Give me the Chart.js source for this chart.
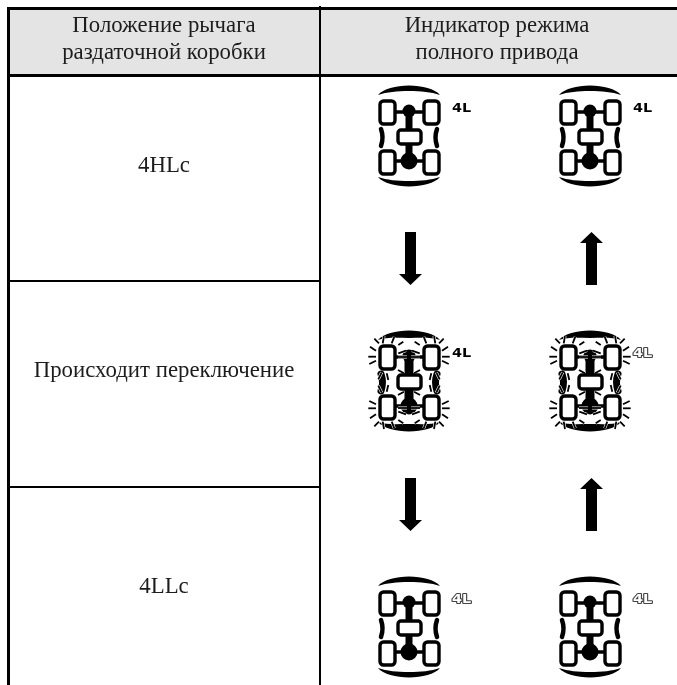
<!DOCTYPE html>
<html lang="ru">
<head>
<meta charset="utf-8">
<title>Индикатор режима полного привода</title>
<script src="https://cdn.jsdelivr.net/npm/chart.js@4/dist/chart.umd.min.js"></script>
<style>
    html, body { margin: 0; padding: 0; background: #fff; overflow: hidden; }
    canvas { display: block; }
</style>
</head>
<body>
<canvas id="chart" width="677" height="685"></canvas>
<script>
// Table contents
const headerLeft = ['Положение рычага', 'раздаточной коробки'];
const headerRight = ['Индикатор режима', 'полного привода'];
const rowLabels = ['4HLc', 'Происходит переключение', '4LLc'];
const rowLabelY = [172, 377, 593];

// Indicator icons: where they sit and whether they blink
const iconColumns = [409, 590];
const iconRows = [136, 381, 627];
const blinkingRow = [false, true, false];

// 4L lamp state per row, one entry for each column
const lampSolid = [[true, true], [true, false], [false, false]];

// Arrows between the icons
const arrowColumns = [410.5, 591.5];
const arrowRows = [258.5, 504.5];

// Table rules
const tableLeft = 8.5;
const tableMid = 320;
const tableRight = 677;
const tableBottom = 685;
const headerTop = 8.5;
const headerBottom = 75.5;
const rowRules = [281, 487];

/**
 * Rounded rectangle path, stroked with a white inside
 */
function wheel(ctx, x1, y1, x2, y2, r) {
    ctx.beginPath();
    ctx.roundRect(x1, y1, x2 - x1, y2 - y1, r);
    ctx.fillStyle = '#fff';
    ctx.fill();
    ctx.stroke();
}

/**
 * Bumper crescent. dir is -1 for the front one, 1 for the rear one
 */
function bumper(ctx, dir, depth) {
    ctx.fillStyle = '#000';
    ctx.beginPath();
    ctx.moveTo(-31, dir * 41);
    ctx.bezierCurveTo(-26, dir * 47, -13, dir * 50.5, 0, dir * 50.5);
    ctx.bezierCurveTo(13, dir * 50.5, 26, dir * 47, 31, dir * 41);
    ctx.bezierCurveTo(22, dir * 44, 12, dir * (46 - depth), 0, dir * (46 - depth));
    ctx.bezierCurveTo(-12, dir * (46 - depth), -22, dir * 44, -31, dir * 41);
    ctx.closePath();
    ctx.fill();
}

// Short rays around the front left wheel, mirrored for the other three
const rayStrokes = [
    [-40.7, -24.3, -33, -24.3], [-39, -34.3, -33, -30.3], [-39.7, -17, -33, -20.3],
    [-34.7, -42.3, -30, -37.7], [-25, -45, -26.3, -37.7], [-14.7, -44.3, -17.3, -37.7],
    [-10.7, -36, -5.7, -39.3], [-10.7, -27.7, -3, -30.3], [-11, -24, -2, -24],
    [-11, -11, -5, -7.7], [-30.7, -1.7, -27.3, -8.7], [-20.7, -1, -22.3, -7.7]
];

function drawRays(ctx) {
    [[1, 1], [-1, 1], [1, -1], [-1, -1]].forEach(([sx, sy]) => {
        rayStrokes.forEach(([x1, y1, x2, y2]) => {
            const mirrorY = y => (sy === 1 ? y : 3 - y);
            ctx.beginPath();
            ctx.moveTo(sx * x1, mirrorY(y1));
            ctx.lineTo(sx * x2, mirrorY(y2));
            ctx.strokeStyle = '#fff';
            ctx.lineWidth = 3;
            ctx.stroke();
            ctx.strokeStyle = '#000';
            ctx.lineWidth = 1.8;
            ctx.stroke();
        });
    });
}

/**
 * Build the drive layout picture used as a point style
 */
function makeIcon(blinking) {
    const sprite = document.createElement('canvas');
    sprite.width = 100;
    sprite.height = 120;
    const ctx = sprite.getContext('2d');
    ctx.translate(50, 60);
    ctx.fillStyle = '#000';
    ctx.strokeStyle = '#000';
    ctx.lineCap = 'round';

    bumper(ctx, -1, blinking ? 3 : 1);
    bumper(ctx, 1, blinking ? 3 : 1);

    // Doors
    ctx.lineWidth = blinking ? 7 : 4.5;
    [-1, 1].forEach(side => {
        ctx.beginPath();
        ctx.moveTo(side * 28, -7);
        ctx.quadraticCurveTo(side * 25, 1.5, side * 28, 10);
        ctx.stroke();
    });

    // Axles, shaft and differentials
    ctx.fillStyle = '#000';
    ctx.lineWidth = 3.4;
    ctx.beginPath();
    ctx.moveTo(-20, -24);
    ctx.lineTo(20, -24);
    ctx.moveTo(-20, 25);
    ctx.lineTo(20, 25);
    ctx.stroke();
    ctx.lineWidth = blinking ? 9 : 7;
    ctx.lineCap = 'butt';
    ctx.beginPath();
    ctx.moveTo(0, -25);
    ctx.lineTo(0, 25);
    ctx.stroke();
    ctx.beginPath();
    ctx.arc(0, -25, 6.5, 0, Math.PI * 2);
    ctx.fill();
    ctx.beginPath();
    ctx.arc(0, 25, 8.5, 0, Math.PI * 2);
    ctx.fill();

    // Wheels
    ctx.lineWidth = 3.4;
    wheel(ctx, -29, -35, -14, -12, 3.5);
    wheel(ctx, 15, -35, 30, -12, 3.5);
    wheel(ctx, -29, 15, -14, 38, 3.5);
    wheel(ctx, 15, 15, 30, 38, 3.5);

    if (blinking) {
        drawRays(ctx);
    }

    // Transfer case goes last, the rays stay outside it
    ctx.strokeStyle = '#000';
    ctx.lineWidth = 3.4;
    wheel(ctx, -11, -6, 12, 8, 3);
    return sprite;
}

/**
 * Block arrow picture. dir is 1 for down, -1 for up
 */
function makeArrow(dir) {
    const sprite = document.createElement('canvas');
    sprite.width = 23;
    sprite.height = 53;
    const ctx = sprite.getContext('2d');
    ctx.translate(11.5, 26.5);
    ctx.scale(1, dir);
    ctx.fillStyle = '#000';
    ctx.beginPath();
    ctx.moveTo(-5.5, -26.5);
    ctx.lineTo(5.5, -26.5);
    ctx.lineTo(5.5, 15.5);
    ctx.lineTo(11.5, 15.5);
    ctx.lineTo(0, 26.5);
    ctx.lineTo(-11.5, 15.5);
    ctx.lineTo(-5.5, 15.5);
    ctx.closePath();
    ctx.fill();
    return sprite;
}

function rule(points, width) {
    return {
        data: points.map(([x, y]) => ({ x, y })),
        showLine: true,
        borderColor: '#000',
        borderWidth: width,
        pointRadius: 0,
        borderCapStyle: 'butt'
    };
}

function pointsFor(columns, rows) {
    const points = [];
    rows.forEach(y => columns.forEach(x => points.push({ x, y })));
    return points;
}

// Text and 4L lamps, placed through the chart scales
const tableText = {
    id: 'tableText',
    afterDatasetsDraw(chart) {
        const { ctx, scales: { x, y } } = chart;
        ctx.save();
        ctx.fillStyle = '#1c1c1c';
        ctx.textAlign = 'center';
        ctx.textBaseline = 'alphabetic';
        ctx.font = '22.8px "Liberation Serif"';

        headerLeft.forEach((text, i) => {
            ctx.fillText(text, x.getPixelForValue(164), y.getPixelForValue(32 + i * 27));
        });
        headerRight.forEach((text, i) => {
            ctx.fillText(text, x.getPixelForValue(497), y.getPixelForValue(32 + i * 27));
        });
        rowLabels.forEach((text, i) => {
            ctx.fillText(text, x.getPixelForValue(164), y.getPixelForValue(rowLabelY[i]));
        });

        // 4L marks next to every icon
        ctx.textAlign = 'left';
        ctx.font = 'bold 12px "DejaVu Sans"';
        ctx.lineJoin = 'round';
        iconRows.forEach((rowY, r) => {
            iconColumns.forEach((colX, c) => {
                const px = x.getPixelForValue(colX + 43);
                const py = y.getPixelForValue(rowY - 24);
                ctx.save();
                ctx.translate(px, py);
                ctx.scale(1.2, 1);
                if (lampSolid[r][c]) {
                    ctx.fillStyle = '#000';
                    ctx.fillText('4L', 0, 0);
                } else {
                    ctx.strokeStyle = '#444';
                    ctx.lineWidth = 2;
                    ctx.strokeText('4L', 0, 0);
                    ctx.fillStyle = '#fff';
                    ctx.fillText('4L', 0, 0);
                }
                ctx.restore();
            });
        });
        ctx.restore();
    }
};

const iconPlain = makeIcon(false);
const iconBlink = makeIcon(true);

new Chart(document.getElementById('chart'), {
    type: 'scatter',
    data: {
        datasets: [
            // Icons
            {
                data: pointsFor(iconColumns, iconRows.filter((_, i) => !blinkingRow[i])),
                pointStyle: iconPlain
            },
            {
                data: pointsFor(iconColumns, iconRows.filter((_, i) => blinkingRow[i])),
                pointStyle: iconBlink
            },
            // Arrows
            {
                data: arrowRows.map(y => ({ x: arrowColumns[0], y })),
                pointStyle: makeArrow(1)
            },
            {
                data: arrowRows.map(y => ({ x: arrowColumns[1], y })),
                pointStyle: makeArrow(-1)
            },
            // Table rules
            rule([[tableLeft, 7], [tableLeft, tableBottom]], 3),
            rule([[tableMid, 6], [tableMid, tableBottom]], 2),
            rule([[7, headerTop], [tableRight, headerTop]], 3),
            rule([[7, headerBottom], [tableRight, headerBottom]], 3),
            rule([[tableLeft, rowRules[0]], [tableMid, rowRules[0]]], 2),
            rule([[tableLeft, rowRules[1]], [tableMid, rowRules[1]]], 2),
            // Header shading
            {
                data: [{ x: tableLeft, y: headerTop }, { x: tableRight, y: headerTop }],
                showLine: true,
                borderWidth: 0,
                pointRadius: 0,
                backgroundColor: '#e4e4e4',
                fill: { value: headerBottom }
            }
        ]
    },
    options: {
        responsive: false,
        animation: false,
        events: [],
        layout: { padding: 0, autoPadding: false },
        plugins: {
            legend: { display: false },
            tooltip: { enabled: false },
            title: { display: false }
        },
        scales: {
            x: { type: 'linear', min: 0, max: 677, display: false },
            y: { type: 'linear', min: 0, max: 685, reverse: true, display: false }
        }
    },
    plugins: [tableText]
});
</script>
</body>
</html>
